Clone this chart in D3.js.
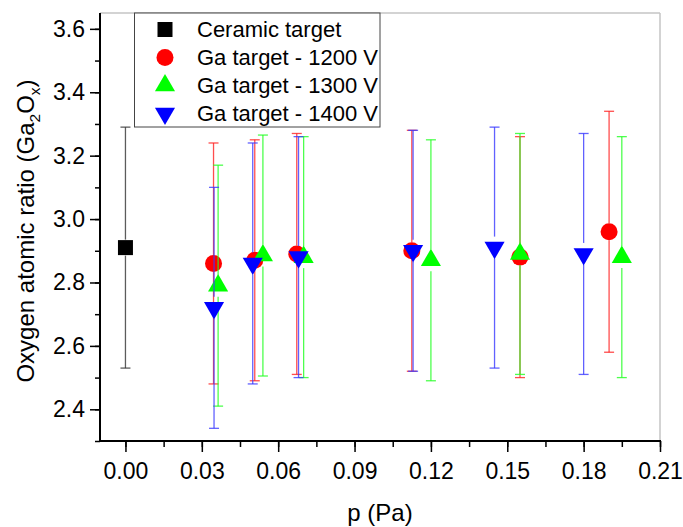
<!DOCTYPE html>
<html><head><meta charset="utf-8">
<script src="https://cdn.jsdelivr.net/npm/d3@7"></script>
<style>body{margin:0;background:#fff}svg{display:block}text{font-family:Arial,"Liberation Sans",sans-serif;fill:#000}</style>
</head><body><svg id="c" width="683" height="527"></svg>
<script>
const seriesNames = ["Ceramic target","Ga target - 1200 V","Ga target - 1300 V","Ga target - 1400 V"];
const ceramicP = [0.0];
const ceramicO = [2.91];
const ceramicErr = [0.38];
const ga1200P = [0.0346, 0.0508, 0.0673, 0.1125, 0.155, 0.190];
const ga1200O = [2.86, 2.87, 2.89, 2.90, 2.88, 2.96];
const ga1200Err = [0.38, 0.38, 0.38, 0.38, 0.38, 0.38];
const ga1300P = [0.0364, 0.054, 0.070, 0.120, 0.155, 0.195];
const ga1300O = [2.79, 2.885, 2.88, 2.87, 2.89, 2.88];
const ga1300Err = [0.38, 0.38, 0.38, 0.38, 0.38, 0.38];
const ga1400P = [0.0348, 0.050, 0.068, 0.113, 0.145, 0.180];
const ga1400O = [2.72, 2.86, 2.88, 2.90, 2.91, 2.89];
const ga1400Err = [0.38, 0.38, 0.38, 0.38, 0.38, 0.38];
const xTicks = [0.00, 0.03, 0.06, 0.09, 0.12, 0.15, 0.18, 0.21];
const yTicks = [2.4, 2.6, 2.8, 3.0, 3.2, 3.4, 3.6];

const svg = d3.select("#c");
const L = 100, R = 660, T = 13, B = 441;
const x = d3.scaleLinear().domain([-0.01, 0.21]).range([L, R]);
const y = d3.scaleLinear().domain([2.3, 3.65]).range([B, T]);

// frame top/right
svg.append("line").attr("x1", L).attr("x2", R).attr("y1", T).attr("y2", T).attr("stroke", "#c4c4c4").attr("stroke-width", 1.5);
svg.append("line").attr("x1", R).attr("x2", R).attr("y1", T).attr("y2", B).attr("stroke", "#c4c4c4").attr("stroke-width", 1.5);

// x axis
const xMinor = d3.range(0, 0.2101, 0.015);
const gx = svg.append("g").attr("transform", `translate(0,${B})`);
gx.call(d3.axisBottom(x).tickValues(xMinor).tickSize(6).tickFormat(""));
gx.call(g => g.select(".domain").remove());
const gx2 = svg.append("g").attr("transform", `translate(0,${B})`);
gx2.call(d3.axisBottom(x).tickValues(xTicks).tickSize(11).tickPadding(11).tickFormat(d3.format(".2f")));
gx2.selectAll("text").attr("font-size", 23).attr("font-family", "Arial, 'Liberation Sans', sans-serif");
svg.selectAll("g line").attr("stroke", "#000").attr("stroke-width", 1.5);
gx2.select(".domain").remove();
svg.append("line").attr("x1", L - 1).attr("x2", R + 1).attr("y1", B).attr("y2", B).attr("stroke", "#000").attr("stroke-width", 2);

// y axis
const yMinor = d3.range(2.3, 3.651, 0.1);
const gy = svg.append("g").attr("transform", `translate(${L},0)`);
gy.call(d3.axisLeft(y).tickValues(yMinor).tickSize(5).tickFormat(""));
gy.select(".domain").remove();
const gy2 = svg.append("g").attr("transform", `translate(${L},0)`);
gy2.call(d3.axisLeft(y).tickValues(yTicks).tickSize(10).tickPadding(5).tickFormat(d3.format(".1f")));
gy2.select(".domain").remove();
gy2.selectAll("text").attr("font-size", 23).attr("font-family", "Arial, 'Liberation Sans', sans-serif");
svg.selectAll("g line").attr("stroke", "#000").attr("stroke-width", 1.5);
svg.append("line").attr("x1", L).attr("x2", L).attr("y1", T).attr("y2", B + 1).attr("stroke", "#000").attr("stroke-width", 2);

// axis titles
svg.append("text").attr("x", 380).attr("y", 521).attr("text-anchor", "middle").attr("font-size", 24).text("p (Pa)");
const yt = svg.append("text").attr("transform", "translate(34,231) rotate(-90)").attr("text-anchor", "middle").attr("font-size", 24);
yt.append("tspan").text("Oxygen atomic ratio (Ga");
yt.append("tspan").attr("font-size", 15.5).attr("dy", 6).text("2");
yt.append("tspan").attr("dy", -6).text("O");
yt.append("tspan").attr("font-size", 15.5).attr("dy", 6).text("x");
yt.append("tspan").attr("dy", -6).text(")");

// series
const series = [
  {p: ceramicP, o: ceramicO, e: ceramicErr, color: "#000", bar: "#333", sym: d3.symbolSquare, size: 225, rot: 0, gap: 8},
  {p: ga1200P, o: ga1200O, e: ga1200Err, color: "#ff0000", bar: "#ff2020", sym: d3.symbolCircle, size: 227, rot: 0, gap: 8.5},
  {p: ga1300P, o: ga1300O, e: ga1300Err, color: "#00ff00", bar: "#20ff20", sym: d3.symbolTriangle, size: 175, rot: 0, gap: 11},
  {p: ga1400P, o: ga1400O, e: ga1400Err, color: "#0000ff", bar: "#3a3aff", sym: d3.symbolTriangle, size: 175, rot: 180, gap: 11}
];
series.forEach(s => {
  const g = svg.append("g");
  const data = s.p.map((p, i) => ({p, o: s.o[i], e: s.e[i]}));
  data.forEach(d => {
    const cx = x(d.p), cy = y(d.o), yt = y(d.o + d.e), yb = y(d.o - d.e);
    const st = {stroke: s.bar, "stroke-width": 1.3, "stroke-opacity": 0.8};
    const add = (x1, y1, x2, y2) => {
      const l = g.append("line").attr("x1", x1).attr("y1", y1).attr("x2", x2).attr("y2", y2);
      Object.entries(st).forEach(([k, v]) => l.attr(k, v));
    };
    add(cx, yt, cx, cy - s.gap);
    add(cx, cy + s.gap, cx, yb);
    add(cx - 5, yt, cx + 5, yt);
    add(cx - 5, yb, cx + 5, yb);
  });
  g.selectAll("path").data(data).join("path")
    .attr("d", d3.symbol().type(s.sym).size(s.size))
    .attr("transform", d => `translate(${x(d.p)},${y(d.o)}) rotate(${s.rot})`)
    .attr("fill", s.color);
});

// legend
svg.append("rect").attr("x", 134.5).attr("y", T).attr("width", 245.5).attr("height", 114)
  .attr("fill", "#fff").attr("stroke", "#444").attr("stroke-width", 1);
const rowsY = [29.5, 57.5, 85.5, 113.5];
series.forEach((s, i) => {
  svg.append("path").attr("d", d3.symbol().type(s.sym).size(s.size)())
    .attr("transform", `translate(165,${rowsY[i]}) rotate(${s.rot})`).attr("fill", s.color);
  svg.append("text").attr("x", 197).attr("y", rowsY[i]).attr("dy", "0.36em").attr("font-size", 22).text(seriesNames[i]);
});
</script></body></html>
